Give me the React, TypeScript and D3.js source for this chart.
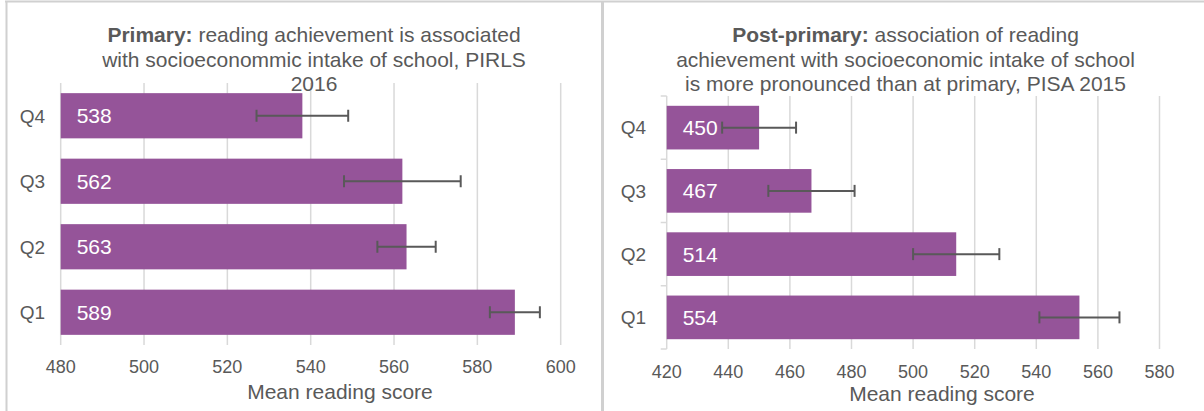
import React from "react";
import * as d3 from "d3";

// Quartiles of socioeconomic intake, top row first
const quartiles = ["Q4", "Q3", "Q2", "Q1"];

// Primary (PIRLS 2016)
const primaryMeans = [538, 562, 563, 589];
const primaryLow = [527, 548, 556, 583];
const primaryHigh = [549, 576, 570, 595];
const primaryTicks = [480, 500, 520, 540, 560, 580, 600];

// Post-primary (PISA 2015)
const postMeans = [450, 467, 514, 554];
const postLow = [438, 453, 500, 541];
const postHigh = [462, 481, 528, 567];
const postTicks = [420, 440, 460, 480, 500, 520, 540, 560, 580];

const primaryTitle = [
  { bold: "Primary:", rest: " reading achievement is associated" },
  { bold: "", rest: "with socioeconommic intake of school, PIRLS" },
  { bold: "", rest: "2016" },
];
const postTitle = [
  { bold: "Post-primary:", rest: " association of reading" },
  { bold: "", rest: "achievement with socioeconomic intake of school" },
  { bold: "", rest: "is more pronounced than at primary, PISA 2015" },
];
const axisTitle = "Mean reading score";

const FONT = "'Liberation Sans', Arial, sans-serif";
const TEXT = "#595959";
const GRID = "#d9d9d9";
const BAR = "#955499";
const BORDER = "#d0d0d0";

type PanelProps = {
  means: number[];
  low: number[];
  high: number[];
  ticks: number[];
  title: { bold: string; rest: string }[];
  titleX: number;
  xRange: [number, number];
  yRange: [number, number];
  labelX: number;
  tickY: number;
  axisTitleX: number;
  axisTitleY: number;
  axisLine: boolean;
};

function Panel(p: PanelProps) {
  const x = d3
    .scaleLinear()
    .domain([p.ticks[0], p.ticks[p.ticks.length - 1]])
    .range(p.xRange);
  const y = d3
    .scaleBand<string>()
    .domain(quartiles)
    .range(p.yRange)
    .paddingInner(0.31)
    .paddingOuter(0.155);
  const step = y.step();
  const bw = y.bandwidth();
  const x0 = x(p.ticks[0]);
  const boundaries = d3.range(quartiles.length + 1).map((i) => p.yRange[0] + i * step);

  return (
    <g>
      {/* vertical gridlines */}
      {p.ticks.map((t, i) =>
        i === 0 && p.axisLine ? null : (
          <line key={t} x1={x(t)} x2={x(t)} y1={p.yRange[0]} y2={p.yRange[1]} stroke={GRID} strokeWidth={1.5} />
        )
      )}
      {p.axisLine && (
        <g>
          <line x1={x0} x2={x0} y1={p.yRange[0]} y2={p.yRange[1]} stroke={GRID} strokeWidth={1.5} />
          {boundaries.map((b, i) => (
            <line key={i} x1={x0 - 6} x2={x0} y1={b} y2={b} stroke={GRID} strokeWidth={1.5} />
          ))}
        </g>
      )}
      {/* title */}
      {p.title.map((ln, i) => (
        <text key={i} x={p.titleX} y={42 + i * 24.5} textAnchor="middle" fontSize={21} fill={TEXT} fontFamily={FONT}>
          {ln.bold && <tspan fontWeight="bold">{ln.bold}</tspan>}
          <tspan>{ln.rest}</tspan>
        </text>
      ))}
      {/* bars */}
      {quartiles.map((q, i) => {
        const yy = y(q)!;
        const cy = yy + bw / 2;
        return (
          <g key={q}>
            <rect x={x0} y={yy} width={x(p.means[i]) - x0} height={bw} fill={BAR} />
            <text x={x0 + 16} y={cy} dy="0.36em" fontSize={21} fill="#ffffff" fontFamily={FONT}>
              {p.means[i]}
            </text>
            <line x1={x(p.low[i])} x2={x(p.high[i])} y1={cy} y2={cy} stroke={TEXT} strokeWidth={2} />
            <line x1={x(p.low[i])} x2={x(p.low[i])} y1={cy - 6} y2={cy + 6} stroke={TEXT} strokeWidth={2} />
            <line x1={x(p.high[i])} x2={x(p.high[i])} y1={cy - 6} y2={cy + 6} stroke={TEXT} strokeWidth={2} />
            <text x={p.labelX} y={cy} dy="0.36em" textAnchor="end" fontSize={19} fill={TEXT} fontFamily={FONT}>
              {q}
            </text>
          </g>
        );
      })}
      {/* x tick labels */}
      {p.ticks.map((t) => (
        <text key={t} x={x(t)} y={p.tickY} dy="0.36em" textAnchor="middle" fontSize={18} fill={TEXT} fontFamily={FONT}>
          {t}
        </text>
      ))}
      <text
        x={p.axisTitleX}
        y={p.axisTitleY}
        dy="0.36em"
        textAnchor="middle"
        fontSize={21}
        fill={TEXT}
        fontFamily={FONT}
      >
        {axisTitle}
      </text>
    </g>
  );
}

export default function App() {
  return (
    <svg
      width={1204}
      height={411}
      style={{ position: "absolute", left: 0, top: 0, background: "#ffffff" }}
    >
      <rect x={0} y={0} width={1204} height={411} fill="#ffffff" />
      {/* panel frames */}
      <line x1={5} x2={1204} y1={1.5} y2={1.5} stroke={BORDER} strokeWidth={2} />
      <line x1={6.5} x2={6.5} y1={1} y2={411} stroke={BORDER} strokeWidth={2} />
      <line x1={602.5} x2={602.5} y1={1} y2={411} stroke={BORDER} strokeWidth={3} />
      <Panel
        means={primaryMeans}
        low={primaryLow}
        high={primaryHigh}
        ticks={primaryTicks}
        title={primaryTitle}
        titleX={314}
        xRange={[60.7, 560.7]}
        yRange={[83, 345]}
        labelX={45}
        tickY={367}
        axisTitleX={340}
        axisTitleY={391}
        axisLine={false}
      />
      <Panel
        means={postMeans}
        low={postLow}
        high={postHigh}
        ticks={postTicks}
        title={postTitle}
        titleX={905.5}
        xRange={[666.7, 1159.5]}
        yRange={[96, 349]}
        labelX={646}
        tickY={372}
        axisTitleX={942}
        axisTitleY={393}
        axisLine={true}
      />
    </svg>
  );
}
